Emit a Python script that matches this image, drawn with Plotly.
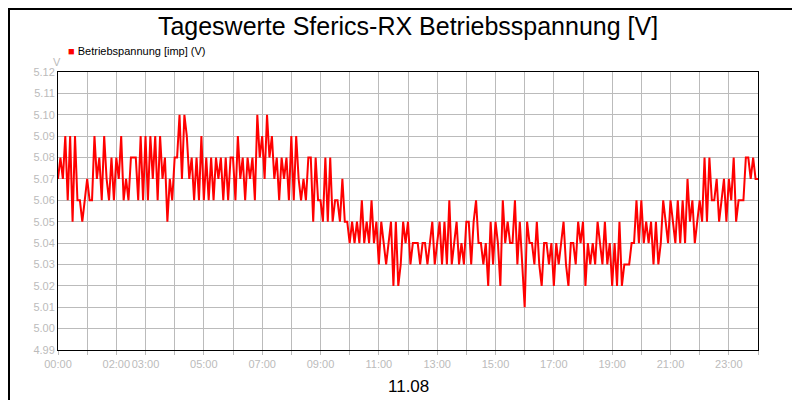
import plotly.graph_objects as go

# values in hundredths of a volt (e.g. 507 = 5.07 V), 12 samples per hour
h00 = [507, 508, 507, 509, 506, 509, 505, 509, 506, 506, 505, 506]
h01 = [507, 506, 506, 509, 507, 508, 506, 509, 507, 506, 508, 506]
h02 = [508, 507, 509, 506, 507, 506, 508, 508, 508, 506, 509, 506]
h03 = [509, 506, 509, 507, 509, 506, 509, 507, 508, 505, 507, 506]
h04 = [508, 508, 510, 507, 510, 509, 507, 508, 506, 508, 506, 509]
h05 = [506, 508, 506, 508, 506, 508, 507, 508, 506, 508, 506, 508]
h06 = [508, 506, 509, 507, 508, 506, 508, 507, 508, 506, 510, 508]
h07 = [509, 507, 510, 508, 509, 507, 508, 506, 508, 507, 508, 506]
h08 = [509, 506, 509, 507, 506, 507, 506, 508, 508, 505, 508, 506]
h09 = [506, 505, 508, 505, 508, 505, 506, 506, 505, 507, 505, 505]
h10 = [504, 505, 504, 505, 504, 506, 504, 505, 504, 506, 504, 505]
h11 = [503, 505, 504, 503, 504, 505, 502, 505, 502, 503, 505, 504]
h12 = [505, 503, 504, 504, 504, 503, 504, 504, 503, 504, 505, 503]
h13 = [504, 505, 503, 505, 503, 506, 503, 504, 505, 503, 504, 503]
h14 = [505, 505, 503, 505, 506, 504, 504, 503, 504, 502, 505, 503]
h15 = [505, 504, 502, 506, 504, 505, 504, 504, 506, 503, 505, 503]
h16 = [501, 505, 504, 504, 503, 505, 503, 502, 504, 504, 503, 504]
h17 = [502, 504, 503, 504, 505, 503, 502, 504, 504, 503, 505, 504]
h18 = [505, 502, 504, 503, 504, 503, 505, 504, 503, 505, 503, 504]
h19 = [502, 504, 502, 505, 502, 503, 503, 503, 504, 504, 506, 504]
h20 = [506, 504, 505, 504, 505, 503, 505, 503, 504, 506, 505, 504]
h21 = [506, 505, 504, 506, 504, 506, 504, 507, 505, 506, 504, 505]
h22 = [506, 505, 508, 505, 508, 506, 506, 507, 505, 506, 507, 505]
h23 = [507, 506, 508, 505, 506, 506, 506, 508, 508, 507, 508, 507]
last = [507]

hours = [h00, h01, h02, h03, h04, h05, h06, h07, h08, h09, h10, h11,
         h12, h13, h14, h15, h16, h17, h18, h19, h20, h21, h22, h23, last]
values = [v / 100 for h in hours for v in h]
times = [i * 5 / 60 for i in range(len(values))]

tick_hours = list(range(25))
tick_labels = ["00:00", "", "02:00", "03:00", "", "05:00", "", "07:00", "", "09:00", "",
               "11:00", "", "13:00", "", "15:00", "", "17:00", "", "19:00", "", "21:00",
               "", "23:00", ""]
y_ticks = [4.99 + i * 0.01 for i in range(14)]

fig = go.Figure()
fig.add_trace(go.Scatter(x=times, y=values, mode="lines",
                         line=dict(color="#ff0000", width=2),
                         name="Betriebspannung [imp] (V)", showlegend=False))

fig.update_layout(
    width=800, height=400,
    paper_bgcolor="white", plot_bgcolor="white",
    margin=dict(l=50, r=50, t=64, b=58, autoexpand=False),
    font=dict(family="Liberation Sans, Arial", color="black"),
    title=dict(text="Tageswerte Sferics-RX Betriebsspannung [V]", x=0.5, xanchor="center",
               y=0.955, yanchor="middle", font=dict(size=25, color="black")),
    showlegend=False,
    xaxis=dict(range=[0, 24], tickvals=tick_hours, ticktext=tick_labels,
               tickangle=0, automargin=False,
               showgrid=True, gridcolor="#bbbbbb", gridwidth=1,
               ticks="outside", ticklen=4, tickcolor="#bbbbbb",
               tickfont=dict(size=11, color="#bbbbbb"),
               showline=True, linecolor="black", linewidth=1, mirror=True,
               zeroline=False),
    yaxis=dict(range=[4.99, 5.12], tickvals=y_ticks, tickformat=".2f", automargin=False,
               showgrid=True, gridcolor="#bbbbbb", gridwidth=1,
               ticks="", tickfont=dict(size=11, color="#bbbbbb"),
               showline=True, linecolor="black", linewidth=1, mirror=True,
               zeroline=False),
    shapes=[dict(type="rect", xref="paper", yref="paper", x0=-0.07, x1=1.07,
                 y0=-0.205, y1=1.2266, line=dict(color="black", width=2))],
    annotations=[
        dict(text="V", xref="paper", yref="paper", x=-0.01, y=1.065, showarrow=False,
             font=dict(size=11, color="#bbbbbb")),
        dict(text="<span style='color:#ff0000'>■</span> Betriebspannung [imp] (V)",
             xref="paper", yref="paper", x=0.012, y=1.075, xanchor="left",
             yanchor="middle", showarrow=False, font=dict(size=11, color="black")),
        dict(text="11.08", xref="paper", yref="paper", x=0.5, y=-0.13, showarrow=False,
             yanchor="middle", font=dict(size=17, color="black")),
    ],
)
fig.write_html("out.html")
